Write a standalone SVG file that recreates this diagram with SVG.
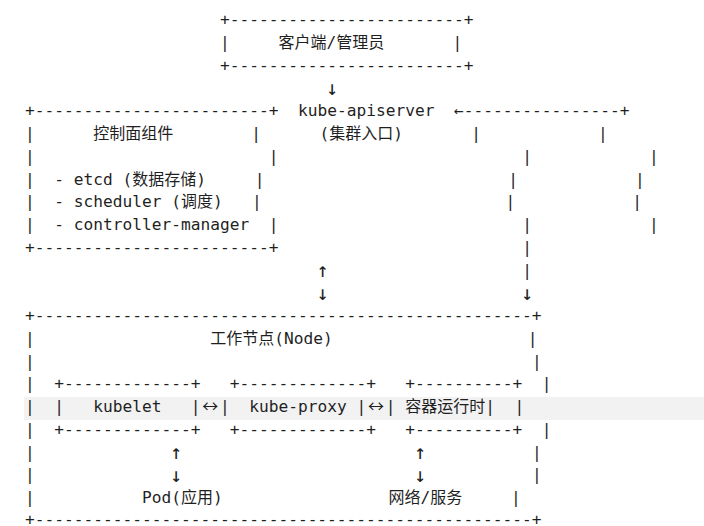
<svg xmlns="http://www.w3.org/2000/svg" width="704" height="526" viewBox="0 0 704 526" xml:space="preserve">
<style>
.m{font-family:"DejaVu Sans Mono","Liberation Mono",monospace;font-size:16.2px;fill:#1f1f1f;white-space:pre}
.c{font-family:"Noto Sans CJK SC","Noto Sans",sans-serif;font-size:16px;fill:#1f1f1f}
.a{font-family:"Noto Sans CJK SC","DejaVu Sans",sans-serif;font-size:16px;fill:#1f1f1f;text-anchor:middle}
.v{font-family:"DejaVu Sans Mono","Liberation Mono",monospace;font-size:20px;fill:#1f1f1f;text-anchor:middle}
</style>
<rect width="704" height="526" fill="#ffffff"/>
<rect x="24" y="397" width="680" height="23" fill="#f2f2f3"/>
<g id="client">
<text class="m" x="220" y="25.3">+------------------------+</text>
<text class="m" x="220" y="48.05">|</text>
<text class="c" x="278.5" y="48.05">客户端</text>
<text class="m" x="326.5" y="48.05">/</text>
<text class="c" x="336.25" y="48.05">管理员</text>
<text class="m" x="452.5" y="48.05">|</text>
<text class="m" x="220" y="70.8">+------------------------+</text>
</g>
<g id="kube-apiserver">
<text class="m" x="298" y="116.3">kube-apiserver</text>
<text class="m" x="319.5" y="139.05">(</text>
<text class="c" x="329.25" y="139.05">集群入口</text>
<text class="m" x="393.25" y="139.05">)</text>
</g>
<g id="control-plane">
<text class="m" x="25" y="116.3">+------------------------+</text>
<text class="m" x="25" y="139.05">|</text>
<text class="c" x="93.25" y="139.05">控制面组件</text>
<text class="m" x="251.25" y="139.05">|</text>
<text class="m" x="25" y="161.8">|</text>
<text class="m" x="268.75" y="161.8">|</text>
<text class="m" x="25" y="184.55">|  - etcd (</text>
<text class="c" x="132.25" y="184.55">数据存储</text>
<text class="m" x="196.25" y="184.55">)</text>
<text class="m" x="254.75" y="184.55">|</text>
<text class="m" x="25" y="207.3">|  - scheduler (</text>
<text class="c" x="181" y="207.3">调度</text>
<text class="m" x="213" y="207.3">)</text>
<text class="m" x="252" y="207.3">|</text>
<text class="m" x="25" y="230.05">|  - controller-manager  |</text>
<text class="m" x="25" y="252.8">+------------------------+</text>
</g>
<g id="worker-node">
<text class="m" x="25" y="321.05">+---------------------------------------------------+</text>
<text class="m" x="25" y="343.8">|</text>
<text class="c" x="210.25" y="343.8">工作节点</text>
<text class="m" x="274.25" y="343.8">(Node)</text>
<text class="m" x="527.75" y="343.8">|</text>
<text class="m" x="25" y="366.55">|</text>
<text class="m" x="532" y="366.55">|</text>
<text class="m" x="25" y="389.3">|</text>
<text class="m" x="541.75" y="389.3">|</text>
<text class="m" x="25" y="412.05">|</text>
<text class="m" x="514.5" y="412.05">|</text>
<text class="m" x="25" y="434.8">|</text>
<text class="m" x="541.75" y="434.8">|</text>
<text class="m" x="25" y="457.55">|</text>
<text class="m" x="532" y="457.55">|</text>
<text class="m" x="25" y="480.3">|</text>
<text class="m" x="532" y="480.3">|</text>
<text class="m" x="25" y="503.05">|</text>
<text class="m" x="511" y="503.05">|</text>
<text class="m" x="25" y="525.3">+---------------------------------------------------+</text>
</g>
<g id="kubelet">
<text class="m" x="54.25" y="389.3">+-------------+</text>
<text class="m" x="54.25" y="412.05">|   kubelet   |</text>
<text class="m" x="54.25" y="434.8">+-------------+</text>
</g>
<g id="kube-proxy">
<text class="m" x="229.75" y="389.3">+-------------+</text>
<text class="m" x="220" y="412.05">|  kube-proxy |</text>
<text class="m" x="229.75" y="434.8">+-------------+</text>
</g>
<g id="container-runtime">
<text class="m" x="405.25" y="389.3">+----------+</text>
<text class="m" x="385.75" y="412.05">|</text>
<text class="c" x="405.25" y="412.05">容器运行时</text>
<text class="m" x="485.25" y="412.05">|</text>
<text class="m" x="405.25" y="434.8">+----------+</text>
</g>
<g id="pod">
<text class="m" x="142" y="503.05">Pod(</text>
<text class="c" x="181" y="503.05">应用</text>
<text class="m" x="213" y="503.05">)</text>
</g>
<g id="network-service">
<text class="c" x="388.5" y="503.05">网络</text>
<text class="m" x="420.5" y="503.05">/</text>
<text class="c" x="430.25" y="503.05">服务</text>
</g>
<g id="connectors">
<text class="v" x="332.1" y="95.3">↓</text>
<text class="m" x="454" y="116.3">←----------------+</text>
<text class="m" x="471.25" y="139.05">|</text>
<text class="m" x="598" y="139.05">|</text>
<text class="m" x="522.25" y="161.8">|</text>
<text class="m" x="649" y="161.8">|</text>
<text class="m" x="508.25" y="184.55">|</text>
<text class="m" x="635" y="184.55">|</text>
<text class="m" x="505.5" y="207.3">|</text>
<text class="m" x="632.25" y="207.3">|</text>
<text class="m" x="522.25" y="230.05">|</text>
<text class="m" x="649" y="230.05">|</text>
<text class="m" x="522.25" y="252.8">|</text>
<text class="v" x="322.4" y="277.3">↑</text>
<text class="m" x="522.25" y="275.55">|</text>
<text class="v" x="322.4" y="300.1">↓</text>
<text class="v" x="527.1" y="300.1">↓</text>
<text class="a" x="210.25" y="412.05">↔</text>
<text class="a" x="376" y="412.05">↔</text>
<text class="v" x="176.1" y="459.3">↑</text>
<text class="v" x="419.9" y="459.3">↑</text>
<text class="v" x="176.1" y="482.1">↓</text>
<text class="v" x="419.9" y="482.1">↓</text>
</g>
</svg>
